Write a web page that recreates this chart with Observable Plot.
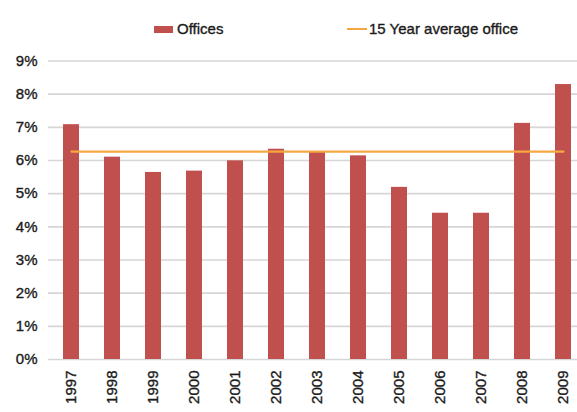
<!DOCTYPE html>
<html>
<head>
<meta charset="utf-8">
<script src="https://cdn.jsdelivr.net/npm/d3@7"></script>
<script src="https://cdn.jsdelivr.net/npm/@observablehq/plot@0.6"></script>
<style>
  html, body { margin: 0; padding: 0; background: #fff; }
  body { width: 577px; height: 412px; overflow: hidden; font-family: "Liberation Sans", Arial, sans-serif; color: #1a1a1a; }
  #legend { position: relative; height: 46px; font-size: 15px; -webkit-text-stroke: 0.35px #1a1a1a; }
  .item { position: absolute; top: 21px; display: flex; align-items: center; line-height: 16px; }
  .sw-bar { width: 19px; height: 7px; background: #c0504d; margin-right: 4px; }
  .sw-line { width: 20px; height: 2px; background: #f5a742; margin-right: 2px; }
  #chart svg { display: block; }
  #chart svg text { stroke: #1a1a1a; stroke-width: 0.35px; }
</style>
</head>
<body>
<div id="legend">
  <div class="item" style="left:154px"><span class="sw-bar"></span><span>Offices</span></div>
  <div class="item" style="left:347px"><span class="sw-line"></span><span>15 Year average office</span></div>
</div>
<div id="chart"></div>
<script>
const years = ["1997","1998","1999","2000","2001","2002","2003","2004","2005","2006","2007","2008","2009"];
const officeValues = [0.0708, 0.0610, 0.0564, 0.0568, 0.0599, 0.0634, 0.0625, 0.0614, 0.0519, 0.0441, 0.0441, 0.0712, 0.0829];
const averageValue = 0.0627;
const yTicks = [0, 0.01, 0.02, 0.03, 0.04, 0.05, 0.06, 0.07, 0.08, 0.09];

const data = years.map((year, i) => ({year, value: officeValues[i], avg: averageValue}));

const chart = Plot.plot({
  width: 577,
  height: 366,
  marginTop: 14.5,
  marginBottom: 53,
  marginLeft: 48,
  marginRight: -10,
  style: {fontFamily: "'Liberation Sans', Arial, sans-serif", fontSize: "15px", color: "#1a1a1a", background: "#fff"},
  x: {domain: years, paddingInner: 0.605, paddingOuter: 0.332},
  y: {domain: [0, 0.09]},
  marks: [
    Plot.ruleY(yTicks, {stroke: "#d6d6d6", strokeWidth: 1.6}),
    Plot.barY(data, {x: "year", y: "value", fill: "#c0504d"}),
    Plot.lineY(data, {x: "year", y: "avg", stroke: "#f5a742", strokeWidth: 2.2}),
    Plot.axisY({ticks: yTicks, tickFormat: d3.format(".0%"), tickSize: 0, tickPadding: 11, label: null, fontSize: 15}),
    Plot.axisX({tickRotate: -90, tickSize: 0, tickPadding: 11, label: null, fontSize: 15})
  ]
});
document.getElementById("chart").appendChild(chart);
</script>
</body>
</html>
